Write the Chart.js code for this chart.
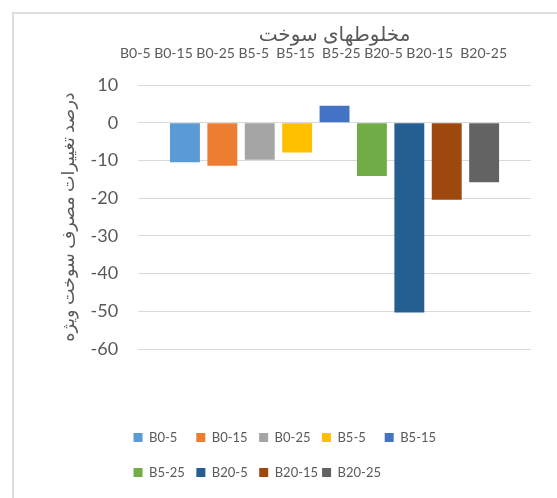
<!DOCTYPE html>
<html><head><meta charset="utf-8">
<script src="https://cdn.jsdelivr.net/npm/chart.js@4"></script>
<style>
html,body{margin:0;padding:0;background:#fff;}
#wrap{position:relative;width:557px;height:498px;overflow:hidden;}
#frame{position:absolute;left:12px;top:12px;width:700px;height:700px;border-left:2px solid #dedede;border-top:2px solid #dedede;box-sizing:border-box;}
canvas{position:absolute;left:0;top:0;}
</style></head><body>
<div id="wrap"><div id="frame"></div><canvas id="c" width="557" height="498"></canvas></div>
<script>
// ---- data ----
const categories = ['B0-5 B0-15 B0-25 B5-5  B5-15  B5-25 B20-5 B20-15  B20-25'];
const seriesNames = ['B0-5','B0-15','B0-25','B5-5','B5-15','B5-25','B20-5','B20-15','B20-25'];
const seriesValues = [-10.5, -11.4, -9.8, -7.9, 4.5, -14.1, -50.3, -20.4, -15.8];
const yMin = -60, yMax = 10, yStep = 10;
const xTitle = 'مخلوطهای سوخت';
const yTitle = 'درصد تغییرات مصرف سوخت ویژه';
// ---- styles ----
const seriesColors = ['#5B9BD5','#ED7D31','#A5A5A5','#FFC000','#4472C4','#70AD47','#255E91','#9E480E','#636363'];
const FAMILY = 'Lato, "DejaVu Sans", sans-serif';
const TXT = '#595959';
Chart.defaults.font.family = FAMILY;
Chart.defaults.color = TXT;

const PAD_L = 46, PAD_R = 26;
const LG_PAD = 4, LG_BOX_W = 9, LG_BOX_H = 31, LG_FONT = 13, SW = 9;
const COL = 63.5;
const itemTextW = COL - LG_PAD - LG_BOX_W - LG_FONT / 2;
const fillerTextW = (134 - PAD_L - 2 * LG_PAD) - LG_BOX_W - LG_FONT / 2;

function padTo(c, text, target) {
  let t = text, n = 0;
  while (c.measureText(t + ' ').width <= target && n++ < 200) t += ' ';
  n = 0;
  while (c.measureText(t + '\u200A').width <= target && n++ < 200) t += '\u200A';
  return t;
}

const swatchPlugin = {
  id: 'swatches',
  afterUpdate(chart) {
    const lg = chart.legend;
    if (!lg || !lg.legendItems || !lg.legendHitBoxes) return;
    const c = chart.ctx;
    lg.legendItems.forEach((it, i) => {
      const hb = lg.legendHitBoxes[i];
      if (!hb) return;
      if (it._filler) { it.fillStyle = 'rgba(0,0,0,0)'; return; }
      const col = it._color;
      const a = (LG_BOX_H - SW) / 2 / LG_BOX_H, b = 1 - a;
      const g = c.createLinearGradient(0, hb.top, 0, hb.top + LG_BOX_H);
      g.addColorStop(0, 'rgba(255,255,255,0)');
      g.addColorStop(a, 'rgba(255,255,255,0)');
      g.addColorStop(a, col);
      g.addColorStop(b, col);
      g.addColorStop(b, 'rgba(255,255,255,0)');
      g.addColorStop(1, 'rgba(255,255,255,0)');
      it.fillStyle = g;
    });
  }
};

new Chart(document.getElementById('c'), {
  type: 'bar',
  data: {
    labels: categories,
    datasets: seriesNames.map((n, i) => ({
      label: n,
      data: [seriesValues[i]],
      backgroundColor: seriesColors[i],
      borderWidth: 0,
      categoryPercentage: 0.8566,
      barPercentage: 0.8
    }))
  },
  options: {
    responsive: false,
    animation: false,
    layout: { padding: { left: PAD_L, right: PAD_R, top: 20, bottom: 0 } },
    plugins: {
      tooltip: { enabled: false },
      legend: {
        position: 'bottom',
        align: 'start',
        title: { display: true, text: ' ', font: { size: 13 }, padding: { top: 0, bottom: 53.4 } },
        labels: {
          boxWidth: LG_BOX_W, boxHeight: LG_BOX_H, padding: LG_PAD,
          color: TXT, font: { size: LG_FONT },
          generateLabels(chart) {
            const base = Chart.defaults.plugins.legend.labels.generateLabels(chart);
            const c = chart.ctx;
            c.save();
            c.font = 'normal ' + LG_FONT + 'px ' + FAMILY;
            const out = [];
            base.forEach((it, i) => {
              if (i % 5 === 0) {
                out.push({ text: padTo(c, '', fillerTextW), fillStyle: 'rgba(0,0,0,0)', strokeStyle: 'rgba(0,0,0,0)', lineWidth: 0, hidden: false, fontColor: TXT, _filler: true });
              }
              it._color = seriesColors[i];
              it.text = padTo(c, it.text, itemTextW);
              it.lineWidth = 0;
              it.fontColor = TXT;
              out.push(it);
            });
            c.restore();
            return out;
          }
        }
      }
    },
    scales: {
      x: {
        position: 'top',
        grid: { display: true, drawOnChartArea: false, drawTicks: true, tickLength: 23.6, color: 'rgba(0,0,0,0)' },
        border: { display: false },
        ticks: { padding: 0, labelOffset: -21, maxRotation: 0, autoSkip: false, color: TXT, font: { size: 14 } },
        title: { display: true, text: xTitle, color: TXT, font: { size: 20 }, padding: { top: 3, bottom: -2.4 } }
      },
      y: {
        min: yMin, max: yMax,
        ticks: { stepSize: yStep, padding: 0, color: TXT, font: { size: 18 } },
        grid: { color: '#d9d9d9', lineWidth: 1, drawTicks: true, tickLength: 20, tickColor: 'rgba(0,0,0,0)' },
        border: { display: false },
        title: { display: true, text: yTitle, color: TXT, font: { size: 17.5 }, padding: { top: 11.5, bottom: 12 } }
      }
    }
  },
  plugins: [swatchPlugin]
});
</script>
</body></html>
